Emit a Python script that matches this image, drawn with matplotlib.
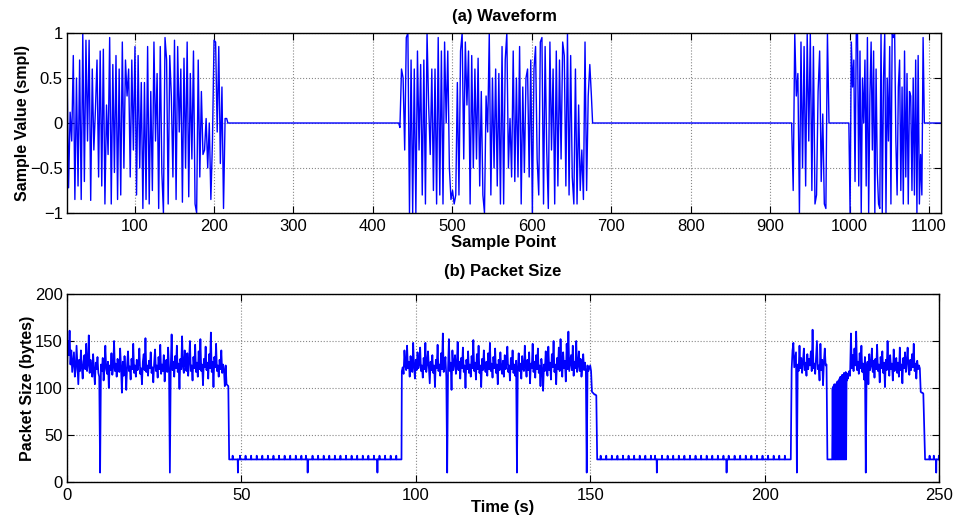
import numpy as np
import matplotlib
matplotlib.use("Agg")
import matplotlib.pyplot as plt

plt.rcParams['font.family'] = ['Liberation Sans', 'DejaVu Sans']

# ---------------- (a) Waveform data (sample index, value) ----------------
wave_seg1_range = (15, 216)
wave_seg1 = [0.65, -0.72, 0.12, -0.2, 0.75, -0.85, 0.5, -0.7, 0.7, -0.85,
             1.0, -0.65, 0.92, -0.2, 0.92, -0.86, 0.6, -0.3, 0.15, 0.7,
             -0.6, 0.8, -0.7, 0.82, -0.9, 0.2, -0.35, 0.95, -0.9, 0.65,
             -0.55, 0.75, -0.85, 0.6, -0.8, 0.9, -0.5, 0.7, 0.3, 0.6,
             -0.6, 0.7, -0.3, 0.85, -0.8, 0.75, -0.5, 0.45, -0.95, 0.45,
             -0.85, 0.85, -0.9, 0.35, -0.75, 0.9, -0.2, 0.55, -0.95, 0.85,
             -0.55, -1.0, 0.95, 0.7, -0.9, 0.75, 0.3, -0.6, 0.92, -0.85,
             0.85, -0.1, 0.6, -0.88, 0.72, -0.5, 0.9, -0.82, 0.55, -0.4,
             0.8, -0.9, -1.0, 0.7, -0.6, 0.35, -0.35, -0.3, 0.05, -0.5,
             0.0, -0.85, -0.2, 0.92, 0.9, -0.1, 0.85, -0.45, 0.4, -0.95,
             0.05, 0.05]
wave_seg2_range = (434, 675)
wave_seg2 = [-0.05, 0.6, 0.5, -0.3, 0.95, 1.0, -1.0, 0.7, -1.0, 0.6,
             -1.0, 0.8, -0.3, 0.65, -0.8, 0.7, -0.9, 1.0, 0.2, -0.35,
             0.6, -0.75, 0.6, -0.9, 0.95, -0.8, 0.8, -0.9, 0.9, 0.0,
             0.8, -0.5, -0.85, -0.75, -0.9, -0.8, 0.45, -0.8, 0.8, 1.0,
             -0.4, 0.9, 0.2, 0.8, -0.9, 0.75, -0.5, 0.6, -0.4, 0.72,
             -0.7, 0.35, -0.8, -1.0, 0.3, -0.1, 1.0, -0.8, 0.5, -0.5,
             0.6, -0.7, 0.55, -0.9, 0.85, -0.9, 0.7, 1.0, -0.5, 0.05,
             -0.6, 0.8, -0.65, 0.5, -0.6, 0.85, -0.9, 0.4, -0.55, 0.5,
             0.6, -0.6, 0.7, -1.0, 0.6, 0.85, -0.4, -0.8, 0.9, 0.95,
             -0.9, 0.85, -0.3, -0.95, 0.9, -0.3, 0.6, -0.9, 0.8, -0.7,
             0.7, -0.4, 0.9, 0.75, -0.7, 1.0, -0.8, 0.75, -0.6, -0.9,
             0.6, -0.9, 0.2, -0.75, -0.3, -0.85, 0.9, -0.75, 0.3, 0.65,
             0.3]
wave_seg3_range = (927, 974)
wave_seg3 = [0.0, -0.75, 1.0, 0.3, 0.55, -1.0, 0.9, -0.5, 0.85, -0.7,
             1.0, -0.2, 1.0, -0.75, 0.85, -0.9, -0.8, 0.35, 0.8, -0.65,
             0.1, -0.9, -0.95, 1.0, 0.0]
wave_seg4_range = (999, 1094)
wave_seg4 = [0.0, -1.0, 0.9, 0.4, 0.7, -0.65, 1.0, 1.0, -0.7, 0.8,
             -1.0, 0.5, 0.0, 0.7, -0.7, 0.95, -1.0, 0.3, 0.9, -0.3,
             0.8, -1.0, 0.6, -0.55, -0.9, -0.95, 1.0, -1.0, 0.5, 1.0,
             -1.0, 0.5, -0.2, 0.85, -0.9, 1.0, 0.95, 1.0, -0.2, -0.8,
             0.4, 0.7, -0.75, 0.4, -0.9, 0.8, -0.6, 0.55, -0.9, 0.35,
             0.3, -0.75, 0.5, -0.8, 0.7, -1.0, 0.75, -0.9, -0.35, -0.8,
             0.95, 0.0]
wave_xlim = (15, 1115)

# ---------------- (b) Packet size data (time s, bytes) ----------------
BASE_SIZE = 24      # silence-frame size
TICK_SIZE = 28      # periodic slightly larger packets during silence
DIP_SIZE = 10       # isolated small packets

pk_seg1_range = (0.0, 46.25)
pk_seg1 = [118, 150, 135, 161, 125, 140, 117, 128, 138, 112, 120, 145, 125, 104, 130, 118, 140, 122, 110, 128,
           135, 120, 147, 118, 125, 156, 116, 130, 122, 112, 136, 118, 104, 127, 120, 133, 116, 112, 10, 125,
           118, 132, 108, 122, 145, 120, 115, 128, 100, 124, 119, 137, 114, 122, 150, 118, 126, 112, 131, 120,
           117, 142, 121, 95, 128, 113, 134, 120, 98, 125, 139, 118, 123, 109, 131, 120, 147, 116, 124, 112,
           130, 119, 126, 142, 115, 121, 104, 128, 136, 119, 153, 117, 124, 113, 129, 121, 138, 116, 122, 106,
           127, 141, 118, 124, 111, 133, 120, 146, 115, 125, 118, 135, 107, 123, 130, 117, 143, 122, 10, 121,
           157, 119, 128, 112, 134, 121, 145, 117, 126, 99, 131, 120, 155, 123, 116, 140, 124, 118, 137, 113,
           129, 150, 118, 124, 108, 133, 121, 146, 117, 127, 112, 139, 120, 152, 118, 125, 103, 131, 122, 144,
           119, 127, 110, 136, 121, 159, 117, 128, 101, 133, 122, 147, 118, 124, 112, 130, 120, 140, 116, 125,
           119, 102, 124, 104, 103, 102]
pk_sil1_range = (46.5, 95.9)
pk_sil1_ticks = [47.5, 49.6, 51.2, 52.8, 54.4, 56.0, 57.6, 59.2, 60.8, 62.4, 64.0, 65.6, 67.2, 68.5, 70.4,
                 72.0, 73.6, 75.2, 76.8, 78.4, 80.0, 81.6, 83.2, 84.8, 86.4, 88.0, 89.6, 91.2, 92.8, 94.4]
pk_sil1_dips = [49.0, 69.0, 89.0]

pk_seg2_range = (96.0, 151.75)
pk_seg2 = [118, 122, 115, 140, 124, 119, 145, 121, 128, 112, 134, 120, 117, 148, 123, 110, 130, 119, 138, 121,
           126, 143, 118, 124, 111, 132, 120, 148, 117, 125, 139, 122, 105, 128, 119, 135, 116, 124, 101, 130,
           121, 146, 118, 125, 113, 137, 120, 158, 117, 124, 133, 112, 10, 121, 152, 118, 127, 98, 140, 119,
           126, 135, 115, 123, 149, 119, 128, 110, 132, 121, 143, 117, 124, 100, 130, 120, 139, 116, 125, 112,
           134, 121, 151, 118, 127, 109, 136, 120, 145, 116, 124, 101, 131, 119, 140, 122, 117, 128, 113, 137,
           120, 148, 118, 126, 111, 133, 121, 142, 116, 125, 104, 130, 119, 138, 122, 115, 129, 112, 135, 120,
           127, 144, 117, 124, 108, 132, 120, 140, 116, 125, 113, 129, 10, 122, 137, 118, 126, 110, 134, 121,
           118, 145, 123, 112, 130, 119, 138, 105, 126, 121, 147, 117, 128, 111, 135, 120, 142, 116, 124, 102,
           131, 120, 97, 125, 118, 139, 121, 113, 144, 119, 127, 109, 136, 122, 150, 117, 125, 104, 132, 120,
           143, 118, 152, 124, 112, 138, 121, 129, 107, 147, 120, 160, 118, 126, 135, 119, 145, 113, 128, 121,
           150, 117, 124, 139, 118, 131, 112, 122, 136, 119, 127, 120, 10, 124, 118, 121, 124, 118, 96, 95,
           94, 93, 93, 92]
pk_sil2_range = (152.0, 207.5)
pk_sil2_ticks = [153.0, 154.6, 156.2, 157.8, 159.4, 161.0, 162.6, 164.2, 165.8, 167.4, 168.6, 170.6, 172.2,
                 173.8, 175.4, 177.0, 178.6, 180.2, 181.8, 183.4, 185.0, 186.6, 188.2, 189.7, 191.4, 193.0,
                 194.6, 196.2, 197.8, 199.4, 201.0, 202.6, 204.2, 205.8]
pk_sil2_dips = [169.1, 189.1]

pk_seg3_range = (207.75, 217.75)
pk_seg3 = [120, 140, 148, 122, 130, 138, 10, 125, 118, 145, 121, 132, 116, 128, 142, 119, 127, 113, 136, 120,
           131, 124, 139, 118, 162, 121, 126, 115, 133, 150, 120, 124, 108, 147, 119, 130, 103, 128, 142, 124,
           125]
pk_sil3_range = (218.0, 219.25)
pk_burst_range = (219.375, 224.375)
pk_burst = [24, 100, 24, 102, 24, 104, 24, 24, 24, 24, 105, 24, 107, 24, 24, 108, 24, 110, 24, 112,
            24, 111, 24, 114, 24, 113, 24, 116, 24, 115, 24, 117, 24, 116, 108, 112, 110, 115, 113, 118,
            116]
pk_seg4_range = (224.5, 245.5)
pk_seg4 = [113, 158, 121, 135, 118, 142, 124, 160, 119, 128, 115, 137, 121, 145, 117, 126, 109, 133, 10, 122,
           128, 104, 136, 119, 124, 142, 117, 129, 111, 131, 120, 146, 118, 125, 106, 133, 121, 139, 116, 127,
           101, 130, 119, 150, 122, 113, 135, 120, 126, 108, 141, 118, 124, 132, 116, 127, 112, 143, 119, 125,
           105, 132, 121, 138, 117, 128, 143, 120, 114, 130, 119, 136, 122, 147, 118, 126, 110, 129, 120, 124,
           121, 96, 95, 95, 94]
pk_sil4_range = (246.0, 250.0)
pk_sil4_ticks = [247.3, 248.5, 249.95]
pk_sil4_dips = [249.2]


def seg(rng, vals):
    return list(np.linspace(rng[0], rng[1], len(vals))), list(vals)


def silent(rng, ticks, dips):
    ev = sorted([(t, TICK_SIZE) for t in ticks] + [(t, DIP_SIZE) for t in dips])
    xs, ys = [rng[0]], [BASE_SIZE]
    for t, v in ev:
        xs += [t - 0.06, t, t + 0.06]
        ys += [BASE_SIZE, v, BASE_SIZE]
    xs.append(rng[1]); ys.append(BASE_SIZE)
    return xs, ys


# build waveform line
wx, wy = [], []
for rng, vals in [(wave_seg1_range, wave_seg1), (wave_seg2_range, wave_seg2),
                  (wave_seg3_range, wave_seg3), (wave_seg4_range, wave_seg4)]:
    x, y = seg(rng, vals)
    if wx:
        wx.append(x[0] - 1.5); wy.append(0.0)
    wx += x; wy += y
    wx.append(x[-1] + 1.5); wy.append(0.0)
wx.append(wave_xlim[1]); wy.append(0.0)

# build packet-size line
px, py = [], []
parts = [seg(pk_seg1_range, pk_seg1), silent(pk_sil1_range, pk_sil1_ticks, pk_sil1_dips),
         seg(pk_seg2_range, pk_seg2), silent(pk_sil2_range, pk_sil2_ticks, pk_sil2_dips),
         seg(pk_seg3_range, pk_seg3), silent(pk_sil3_range, [], []),
         seg(pk_burst_range, pk_burst), seg(pk_seg4_range, pk_seg4),
         silent(pk_sil4_range, pk_sil4_ticks, pk_sil4_dips)]
for x, y in parts:
    px += x; py += y

fig = plt.figure(figsize=(9.54, 5.2), dpi=100)
ax1 = fig.add_axes([0.0702, 0.5904, 0.9162, 0.3461])
ax2 = fig.add_axes([0.0702, 0.0731, 0.9141, 0.3615])

blue = (0, 0, 1)
ax1.plot(wx, wy, color=blue, lw=1.0)
ax2.plot(px, py, color=blue, lw=1.25)

ax1.set_xlim(*wave_xlim)
ax1.set_ylim(-1, 1)
ax1.set_xticks([100, 200, 300, 400, 500, 600, 700, 800, 900, 1000, 1100])
ax1.set_yticks([-1, -0.5, 0, 0.5, 1])
ax1.set_yticklabels(['\u22121', '\u22120.5', '0', '0.5', '1'])
ax1.set_title('(a) Waveform', fontsize=12, fontweight='bold', pad=9)
ax1.set_xlabel('Sample Point', fontsize=12, fontweight='bold', labelpad=1)
ax1.set_ylabel('Sample Value (smpl)', fontsize=11.5, fontweight='bold', labelpad=0)

ax2.set_xlim(0, 250)
ax2.set_ylim(0, 200)
ax2.set_xticks([0, 50, 100, 150, 200, 250])
ax2.set_yticks([0, 50, 100, 150, 200])
ax2.set_title('(b) Packet Size', fontsize=12, fontweight='bold', pad=13)
ax2.set_xlabel('Time (s)', fontsize=12, fontweight='bold', labelpad=-2)
ax2.set_ylabel('Packet Size (bytes)', fontsize=11.5, fontweight='bold', labelpad=0)

for ax in (ax1, ax2):
    ax.grid(True, linestyle=':', color='#888888', linewidth=0.8)
    ax.tick_params(direction='in', top=True, right=True, length=5, width=0.8,
                   labelsize=12, pad=3)
    for s in ax.spines.values():
        s.set_linewidth(1.0)
        s.set_color('black')
ax1.tick_params(axis='x', pad=4)
ax2.tick_params(axis='x', pad=4)

fig.savefig('out.png', dpi=100)
